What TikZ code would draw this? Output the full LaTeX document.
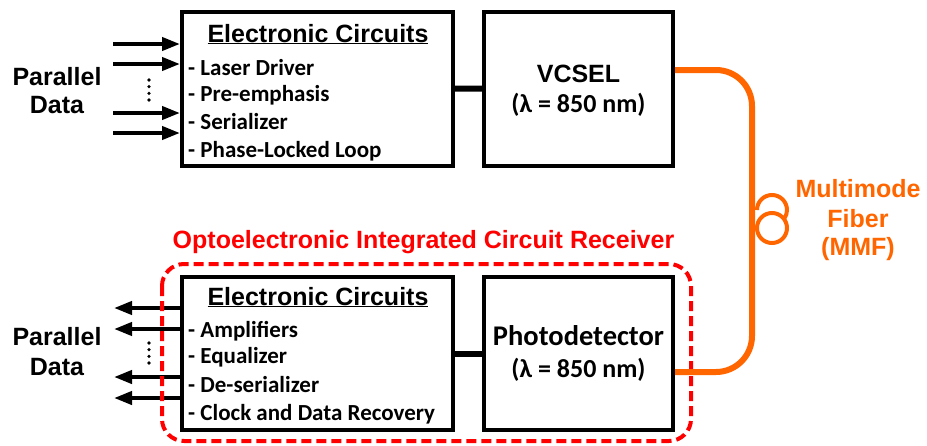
\documentclass[tikz,border=0pt]{standalone}
\usepackage{fontspec}
\setmainfont{Liberation Sans}
\newfontfamily\carl{Carlito}
\usetikzlibrary{arrows.meta}
\definecolor{fibc}{HTML}{FF6600}
\definecolor{rred}{HTML}{FF0000}
\tikzset{
  blockbox/.style={draw, line width=4pt, inner sep=0pt, minimum height=154pt},
  txt/.style={inner sep=0pt, anchor=base},
  ttl/.style={txt, font=\bfseries\fontsize{25}{25}\selectfont},
  item/.style={inner sep=0pt, anchor=base west, font=\carl\bfseries\fontsize{23}{23}\selectfont},
  boxtxt/.style={txt, font=\carl\bfseries\fontsize{26}{26}\selectfont},
  conn/.style={line width=6pt},
  arr/.style={line width=4pt, -{Triangle[length=18pt,width=13pt]}},
  fiber/.style={draw=fibc, line width=6pt},
  coil/.style={draw=fibc, line width=4pt},
  oeic/.style={draw=rred, line width=4pt, dash pattern=on 10pt off 5pt, rounded corners=22pt}
}
\begin{document}
\begin{tikzpicture}[x=1pt,y=-1pt]
\useasboundingbox (0,0) rectangle (927,445);
% boxes
\node[blockbox, minimum width=271pt] (ect) at (317.5,89) {};
\node[blockbox, minimum width=189pt] (vcsel) at (578.5,88.5) {};
\node[blockbox, minimum width=271pt, minimum height=153pt] (ecb) at (317.5,353.5) {};
\node[blockbox, minimum width=189pt, minimum height=153pt] (pd) at (578.5,353.5) {};
\draw[conn] (ect) -- (vcsel);
\draw[conn] (ecb) -- (pd);
% top EC text
\node[ttl] (t1) at (318,42) {\underline{Electronic Circuits}};
\node[item] (a1) at (188,75) {- Laser Driver};
\node[item] (a2) at (188,101) {- Pre-emphasis};
\node[item] (a3) at (188,129) {- Serializer};
\node[item] (a4) at (188,157) {- Phase-Locked Loop};
% bottom EC text
\node[ttl] (t2) at (318,305) {\underline{Electronic Circuits}};
\node[item] (b1) at (188,337) {- Amplifiers};
\node[item] (b2) at (188,363) {- Equalizer};
\node[item] (b3) at (188,392) {- De-serializer};
\node[item] (b4) at (188,420) {- Clock and Data Recovery};
% VCSEL and PD text
\node[ttl] (v1) at (578.5,82) {VCSEL};
\node[boxtxt] (v2) at (578.5,112) {(λ = 850 nm)};
\node[boxtxt, font=\carl\bfseries\fontsize{28.5}{28.5}\selectfont] (p1) at (578.5,345) {Photodetector};
\node[boxtxt] (p2) at (578.5,377) {(λ = 850 nm)};
% parallel data labels
\node[ttl] (pd1) at (57,85) {Parallel};
\node[ttl] (pd2) at (57,113) {Data};
\node[ttl] (pd3) at (57,345) {Parallel};
\node[ttl] (pd4) at (57,375) {Data};
% input arrows
\coordinate (i1) at (113,44);
\coordinate (i2) at (113,64);
\coordinate (i3) at (113,113);
\coordinate (i4) at (113,133);
\foreach \c in {i1,i2,i3,i4} \draw[arr] (\c) -- (\c -| ect.west);
\foreach \yy in {80,86.67,93.33,100} \fill (149,\yy) circle (1.8pt);
% output arrows
\coordinate (o1) at (114,308);
\coordinate (o2) at (114,329);
\coordinate (o3) at (114,377);
\coordinate (o4) at (114,398);
\foreach \c in {o1,o2,o3,o4} \draw[arr] (\c -| ecb.west) -- (\c);
\foreach \yy in {343,349.67,356.33,363} \fill (149,\yy) circle (1.8pt);
% OEIC dashed frame
\draw[oeic] (162,264) rectangle (691,441);
\node[ttl, text=rred] (oeict) at (423.5,248) {Optoelectronic Integrated Circuit Receiver};
% fiber
\coordinate (fmid) at (752,220);
\draw[fiber, rounded corners=36pt] ([yshift=18.5pt]vcsel.east) -| (fmid) |- ([yshift=-18.5pt]pd.east);
\draw[coil] (772,228) circle (15pt);
\draw[coil] (757,210) arc[start angle=180, end angle=-35, radius=15pt];
\node[ttl, text=fibc] (m1) at (858,197) {Multimode};
\node[ttl, text=fibc] (m2) at (858,227) {Fiber};
\node[ttl, text=fibc] (m3) at (858,255) {(MMF)};
\end{tikzpicture}
\end{document}
